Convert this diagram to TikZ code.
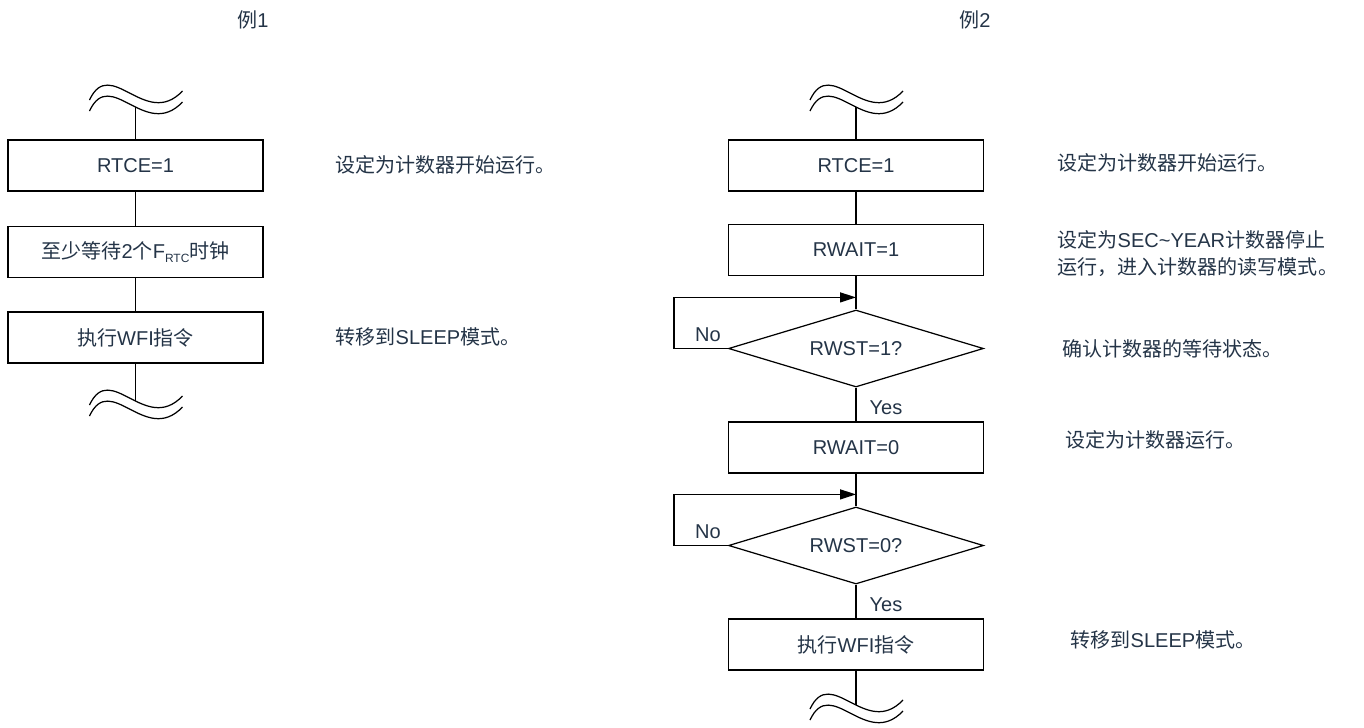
\documentclass[tikz,border=0pt]{standalone}
\usepackage{fontspec}
\setmainfont{Liberation Sans}
\newfontfamily\cjk{Noto Sans CJK SC}
\usepackage{xcolor}
\usetikzlibrary{arrows.meta, positioning, calc, shapes.geometric}
\definecolor{flownavy}{RGB}{36, 52, 71}
\tikzset{
  wavecut/.pic={
    \draw (-46,0) .. controls (-25,-45) and (10,30) .. (47,-9);
    \draw (-46,11) .. controls (-25,-34) and (10,41) .. (47,2);
    \coordinate (-lo) at (0,7.2);
    \coordinate (-up) at (0,-3.8);
  }
}
\begin{document}
\begin{tikzpicture}[x=0.02cm, y=-0.02cm, >={Triangle[length=0.32cm, width=0.2cm]},
  line width=0.7pt, font=\fontsize{11.4pt}{15.3pt}\selectfont,
  procbox/.style={draw, rectangle, minimum width=5.1cm, minimum height=1.02cm, inner sep=0pt, text=flownavy},
  testbox/.style={draw, diamond, aspect=3.3, minimum width=5.1cm, minimum height=1.54cm, inner sep=0pt, text=flownavy},
  note/.style={anchor=west, text=flownavy, align=left, inner sep=0pt},
  branch/.style={text=flownavy, inner sep=0pt}]
    \useasboundingbox (0,0) rectangle (1364,727);
    \node[branch] (h1) at (253,20) {{\cjk 例}1};
    \node[branch] (h2) at (975,20) {{\cjk 例}2};

    \pic (tl) at (135.5,100) {wavecut};
    \node[procbox] (a1) at (135.5,165.5) {RTCE=1};
    \node[procbox] (a2) at (135.5,252) {{\cjk 至少等待}2{\cjk 个}F\raisebox{-0.35ex}{\fontsize{6.8pt}{8pt}\selectfont RTC}{\cjk 时钟}};
    \node[procbox] (a3) at (135.5,337.5) {{\cjk 执行}WFI{\cjk 指令}};
    \pic (bl) at (135.5,405) {wavecut};
    \draw (tl-lo) -- (a1) -- (a2) -- (a3) -- (bl-up);

    \pic (tr) at (856,100) {wavecut};
    \node[procbox] (b1) at (856,165.5) {RTCE=1};
    \node[procbox] (b2) at (856,250) {RWAIT=1};
    \node[testbox] (c1) at (856,348.5) {RWST=1?};
    \node[procbox] (b3) at (856,447.5) {RWAIT=0};
    \node[testbox] (c2) at (856,545.5) {RWST=0?};
    \node[procbox] (b4) at (856,644.5) {{\cjk 执行}WFI{\cjk 指令}};
    \pic (br) at (856,709) {wavecut};
    \draw (tr-lo) -- (b1) -- (b2) -- (c1) -- (b3) -- (c2) -- (b4) -- (br-up);
    \coordinate (j1) at ($(c1.north)+(0,-12)$);
    \coordinate (j2) at ($(c2.north)+(0,-12)$);
    \draw[->] (c1.west) -- ++(-54,0) |- (j1);
    \draw[->] (c2.west) -- ++(-54,0) |- (j2);
    \node[branch] (n1) at (708,335) {No};
    \node[branch] (y1) at (886,408) {Yes};
    \node[branch] (n2) at (708,532) {No};
    \node[branch] (y2) at (886,605) {Yes};

    \node[note] (t1) at (335,165) {{\cjk 设定为计数器开始运行。}};
    \node[note] (t2) at (335,337) {{\cjk 转移到}SLEEP{\cjk 模式。}};
    \node[note] (t3) at (1057,163) {{\cjk 设定为计数器开始运行。}};
    \node[note] (t4) at (1057,253.5) {{\cjk 设定为}SEC\textasciitilde YEAR{\cjk 计数器停止}\\{\cjk 运行，进入计数器的读写模式。}};
    \node[note] (t5) at (1062,349) {{\cjk 确认计数器的等待状态。}};
    \node[note] (t6) at (1065,440) {{\cjk 设定为计数器运行。}};
    \node[note] (t7) at (1070,640) {{\cjk 转移到}SLEEP{\cjk 模式。}};
\end{tikzpicture}
\end{document}
